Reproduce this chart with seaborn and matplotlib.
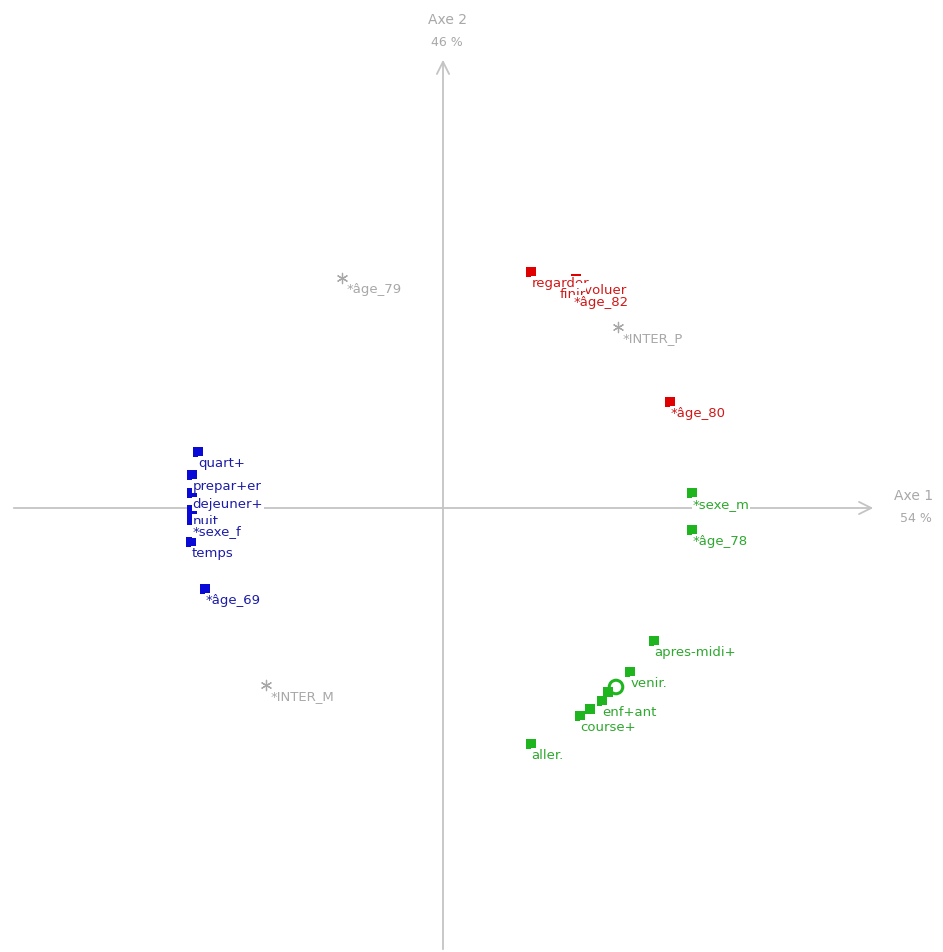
import pandas as pd
import seaborn as sns
import matplotlib.pyplot as plt

# factor scores (axis 1 = 54 %, axis 2 = 46 %)
word_labels = ["quart+", "prepar+er", "dejeuner+", "nuit", "*sexe_f", "temps", "*âge_69",
               "regarder", "evoluer", "finir", "*âge_82", "*âge_80",
               "*sexe_m", "*âge_78", "apres-midi+", "venir.", "", "enf+ant", "", "course+", "aller."]
word_x = [-0.6125, -0.6275, -0.6275, -0.6275, -0.6275, -0.630, -0.595,
          0.220, 0.332, 0.290, 0.325, 0.5675,
          0.6225, 0.6225, 0.5275, 0.4675, 0.4125, 0.3975, 0.3675, 0.3425, 0.220]
word_y = [0.140, 0.0825, 0.0375, -0.005, -0.030, -0.085, -0.2025,
          0.590, 0.5725, 0.5625, 0.5425, 0.265,
          0.0375, -0.055, -0.3325, -0.410, -0.460, -0.4825, -0.5025, -0.520, -0.590]
word_class = ["1"] * 7 + ["2"] * 5 + ["3"] * 9

# illustrative variables (stars)
sup_labels = ["*âge_79", "*INTER_P", "*INTER_M"]
sup_x = [-0.2525, 0.4375, -0.4425]
sup_y = [0.575, 0.4525, -0.4425]

# the round marker in class 3
ring_x = [0.4325]
ring_y = [-0.4475]

axis_titles = ["Axe 1", "Axe 2"]
axis_pct = ["54 %", "46 %"]

marker_colors = {"1": "#0a0ad6", "2": "#e00000", "3": "#1fb51f"}
text_colors = {"1": "#1c1ca8", "2": "#d01818", "3": "#2ea82e"}
grey = "#a8a8a8"
axis_grey = "#c4c4c4"

words = pd.DataFrame({"label": word_labels, "x": word_x, "y": word_y, "cls": word_class})
sup = pd.DataFrame({"label": sup_labels, "x": sup_x, "y": sup_y})

sns.set_style("white")
plt.rcParams["font.family"] = ["DejaVu Sans"]

fig = plt.figure(figsize=(9.43, 9.53), dpi=100)
ax = fig.add_axes([0, 0, 1, 1])
ax.set_xlim(-1.1075, 1.25)
ax.set_ylim(-1.11, 1.2725)
ax.axis("off")

# axes with arrows
ax.annotate("", xy=(1.0825, 0), xytext=(-1.08, 0),
            arrowprops=dict(arrowstyle="->", color=axis_grey, lw=1.3, mutation_scale=22), zorder=1)
ax.annotate("", xy=(0, 1.1275), xytext=(0, -1.11),
            arrowprops=dict(arrowstyle="->", color=axis_grey, lw=1.3, mutation_scale=22), zorder=1)
ax.text(0.01, 1.2225, axis_titles[1], color=grey, fontsize=10, ha="center", va="center")
ax.text(0.01, 1.1675, axis_pct[1], color=grey, fontsize=9, ha="center", va="center")
ax.text(1.1775, 0.0325, axis_titles[0], color=grey, fontsize=10, ha="center", va="center")
ax.text(1.1825, -0.025, axis_pct[0], color=grey, fontsize=9, ha="center", va="center")

sns.scatterplot(data=words, x="x", y="y", hue="cls", palette=marker_colors, marker="s",
                s=52, linewidth=0, legend=False, ax=ax, zorder=3)
sns.scatterplot(x=ring_x, y=ring_y, marker="o", s=95, facecolors="none",
                edgecolor=marker_colors["3"], linewidth=2.2, ax=ax, zorder=3)
sns.scatterplot(data=sup, x="x", y="y", marker=(6, 2, 0), s=55, color=grey,
                linewidth=0.9, legend=False, ax=ax, zorder=3)

box = dict(facecolor="white", edgecolor="none", pad=0.6)
for i, row in words.iterrows():
    if not row["label"]:
        continue
    ax.annotate(row["label"], (row["x"], row["y"]), xytext=(0.3, -7.8), textcoords="offset points",
                color=text_colors[row["cls"]], fontsize=9.5, ha="left", va="center",
                bbox=box, zorder=4 + i * 0.01)
for i, row in sup.iterrows():
    ax.annotate(row["label"], (row["x"], row["y"]), xytext=(3, -7.8), textcoords="offset points",
                color=grey, fontsize=9.5, ha="left", va="center", bbox=box, zorder=4)

fig.savefig("out.png", dpi=100)
